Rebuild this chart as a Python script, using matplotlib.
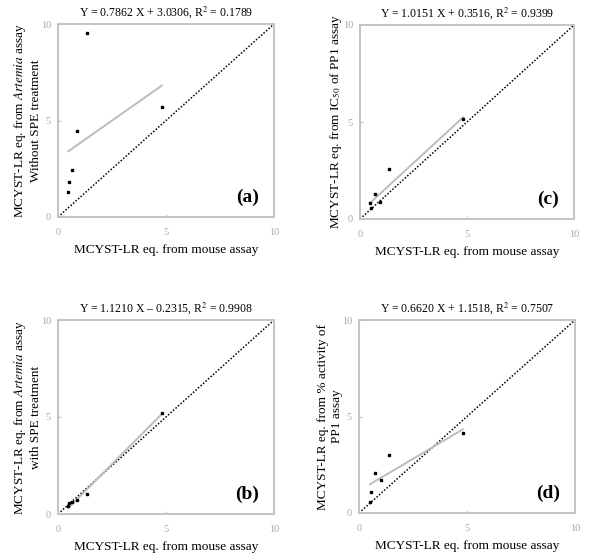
import matplotlib
matplotlib.use("Agg")
import matplotlib.pyplot as plt
import numpy as np

plt.rcParams['font.family'] = ['Liberation Serif', 'DejaVu Serif']
plt.rcParams['mathtext.fontset'] = 'stix'

# Panel (a): Artemia without SPE
a_x = [0.48, 0.51, 0.66, 0.90, 1.33, 4.80]
a_y = [1.29, 1.80, 2.45, 4.47, 9.55, 5.72]
a_fit = (0.7862, 3.0306)
a_title = "Y = 0.7862 X + 3.0306, R$^2$ = 0.1789"

# Panel (b): Artemia with SPE
b_x = [0.48, 0.52, 0.66, 0.90, 1.34, 4.82]
b_y = [0.40, 0.55, 0.60, 0.72, 1.05, 5.20]
b_fit = (1.1210, -0.2315)
b_title = "Y = 1.1210 X \u2013 0.2315, R$^2$ = 0.9908"

# Panel (c): IC50 of PP1
c_x = [0.47, 0.50, 0.69, 0.93, 1.37, 4.83]
c_y = [0.84, 0.57, 1.29, 0.89, 2.58, 5.15]
c_fit = (1.0151, 0.3516)
c_title = "Y = 1.0151 X + 0.3516, R$^2$ = 0.9399"

# Panel (d): % activity of PP1
d_x = [0.51, 0.56, 0.73, 1.00, 1.40, 4.81]
d_y = [0.59, 1.10, 2.07, 1.71, 3.00, 4.12]
d_fit = (0.6620, 1.1518)
d_title = "Y = 0.6620 X + 1.1518, R$^2$ = 0.7507"

xlabel = "MCYST-LR eq. from mouse assay"
ylabels = {
    'a': "MCYST-LR eq. from $\\it{Artemia}$ assay\nWithout SPE treatment",
    'b': "MCYST-LR eq. from $\\it{Artemia}$ assay\nwith SPE treatment",
    'c': "MCYST-LR eq. from IC$_{50}$ of PP1 assay",
    'd': "MCYST-LR eq. from % activity of\nPP1 assay",
}
ticks = [0, 5, 10]

fig = plt.figure(figsize=(5.98, 5.57), dpi=100)

W, H = 598, 557
def rect(l, r, t, b):
    return [l / W, 1 - b / H, (r - l) / W, (b - t) / H]

panels = [
    ('a', rect(58, 274, 24, 217), a_x, a_y, a_fit, a_title),
    ('c', rect(360, 574, 25, 219), c_x, c_y, c_fit, c_title),
    ('b', rect(58, 274, 320, 514), b_x, b_y, b_fit, b_title),
    ('d', rect(359, 575, 320, 513), d_x, d_y, d_fit, d_title),
]

for key, pos, xs, ys, fit, title in panels:
    ax = fig.add_axes(pos)
    ax.set_xlim(0, 10)
    ax.set_ylim(0, 10)
    ax.plot([0, 10], [0, 10], linestyle=(0, (1, 1.2)), color='black', lw=1.1, zorder=2)
    xf = np.array([min(xs), max(xs)])
    ax.plot(xf, fit[0] * xf + fit[1], color='#bcbcbc', lw=1.4, zorder=3)
    ax.plot(xs, ys, 's', color='black', markersize=1.5, zorder=4)
    for s in ax.spines.values():
        s.set_color('#c4c4c4')
        s.set_linewidth(1.4)
    ax.set_xticks(ticks)
    ax.set_yticks(ticks)
    ax.tick_params(direction='in', length=2, width=0.8, color='#c4c4c4',
                   labelcolor='#a8a8a8', labelsize=7.5)
    ax.tick_params(axis='x', pad=8)
    ax.tick_params(axis='y', pad=5)
    ax.set_title(title, fontsize=8.5, pad=6)
    ax.set_xlabel(xlabel, fontsize=9.5, labelpad=5)
    ax.set_ylabel(ylabels[key], fontsize=9.5, labelpad=-1)
    ax.text(0.93, 0.10, f"({key})", transform=ax.transAxes, ha='right', va='center',
            fontsize=14, fontweight='bold')

fig.savefig("out.png", dpi=100)
